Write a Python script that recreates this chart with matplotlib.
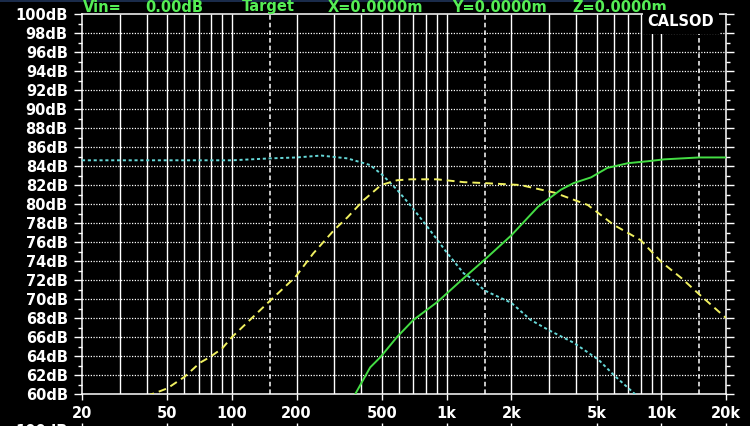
import matplotlib
matplotlib.use("Agg")
from matplotlib import pyplot as plt
from matplotlib.lines import Line2D
from matplotlib.ticker import FixedLocator, NullFormatter

# --- data (frequency in Hz, level in dB) ---
cyan_freq = [20, 50, 100, 150, 200, 260, 345, 440, 505, 587, 681, 800, 906, 1000,
             1200, 1300, 1500, 2000, 2460, 3000, 3900, 5100, 6000, 7440, 8000]
cyan_db = [84.6, 84.6, 84.6, 84.8, 84.9, 85.1, 84.8, 84.1, 83.0, 81.5, 79.8, 77.8, 76.2, 74.9,
           72.7, 72.2, 70.9, 69.6, 67.8, 66.7, 65.4, 63.6, 62.0, 60.1, 59.5]

yellow_freq = [40, 45, 50, 60, 71, 79, 90, 100, 150, 197, 239, 300, 345, 410, 495, 587, 680,
               900, 1200, 1500, 2200, 3170, 4540, 6000, 8000, 10000, 12400, 15000, 20000]
yellow_db = [59.8, 60.2, 60.6, 61.8, 63.3, 63.9, 64.8, 66.0, 69.8, 72.3, 74.8, 77.3, 78.6, 80.4,
             82.0, 82.5, 82.6, 82.6, 82.3, 82.2, 82.0, 81.2, 79.9, 77.8, 76.2, 73.9, 72.2, 70.5, 68.0]

green_freq = [365, 375, 440, 492, 587, 700, 906, 1200, 1530, 2000, 2660, 3400, 3900, 4700,
              5600, 7000, 8640, 10300, 15000, 20000]
green_db = [59.5, 60.0, 62.8, 63.9, 66.0, 67.8, 69.7, 72.2, 74.3, 76.7, 79.7, 81.5, 82.2, 82.8,
            83.8, 84.3, 84.5, 84.7, 84.9, 84.9]

x_major = [20, 50, 100, 200, 500, 1000, 2000, 5000, 10000, 20000]
x_labels = ["20", "50", "100", "200", "500", "1k", "2k", "5k", "10k", "20k"]
x_solid = [30, 40, 50, 60, 70, 80, 90, 100, 200, 300, 400, 500, 600, 700, 800, 900,
           1000, 2000, 3000, 4000, 5000, 6000, 7000, 8000, 9000, 10000]
x_dotted = [150, 1500, 15000]
y_major = list(range(60, 101, 2))
y_minor = list(range(61, 100, 2))

title_parts = ["Vin=", "0.00dB", "Target", "X=0.0000m", "Y=0.0000m", "Z=0.0000m"]
title_px = [83, 145, 242, 328, 452, 572]

W, H = 750, 426
FONT = dict(family="DejaVu Sans", weight="bold", size=10.5)

fig = plt.figure(figsize=(W / 100, H / 100), dpi=100, facecolor="black")
ax = fig.add_axes([82 / W, (H - 394) / H, (726 - 82) / W, (394 - 14) / H], facecolor="black")
ax.set_xscale("log")
ax.set_xlim(20, 20000)
ax.set_ylim(60, 100)

# grid
ax.vlines(x_solid, 60, 100, colors="white", linewidth=1.0, zorder=1)
ax.vlines(x_dotted, 60, 100, colors="white", linewidth=1.1, linestyles=(0, (3, 2)), zorder=1)
ax.hlines(y_major[1:-1], 20, 20000, colors="white", linewidth=0.9, linestyles=(0, (1, 1.2)), zorder=1)

# curves
ax.plot(cyan_freq, cyan_db, color="#66d8d8", linewidth=1.4, linestyle=(0, (1.6, 1.4)), zorder=3)
ax.plot(yellow_freq, yellow_db, color="#f0f060", linewidth=1.4, linestyle=(0, (4, 2.6)), zorder=3)
ax.plot(green_freq, green_db, color="#44dd44", linewidth=1.4, zorder=3)

for s in ax.spines.values():
    s.set_color("white")
    s.set_linewidth(1.1)

ax.xaxis.set_major_locator(FixedLocator(x_major))
ax.xaxis.set_minor_locator(FixedLocator([]))
ax.set_xticklabels(x_labels)
ax.yaxis.set_major_locator(FixedLocator(y_major))
ax.yaxis.set_minor_locator(FixedLocator(y_minor))
ax.yaxis.set_minor_formatter(NullFormatter())
ax.set_yticklabels([f"{v}dB" for v in y_major])

ax.tick_params(axis="x", which="major", colors="white", length=4.3, width=1.0, pad=4.5,
               direction="out")
ax.tick_params(axis="y", which="major", colors="white", length=5.8, width=1.0, pad=4.5,
               direction="out", left=True, right=True)
ax.tick_params(axis="y", which="minor", colors="white", length=2.9, width=1.0,
               direction="out", left=True, right=True)
for lab in ax.get_xticklabels() + ax.get_yticklabels():
    lab.set_fontproperties(matplotlib.font_manager.FontProperties(**FONT))
    lab.set_color("white")

# CALSOD tag
fig.text(681 / W, 1 - 22 / H, "CALSOD", color="white", ha="center", va="center",
         bbox=dict(facecolor="black", edgecolor="none", pad=3.5), zorder=5, **FONT)

# title line
for part, px in zip(title_parts, title_px):
    fig.text(px / W, 1 - 11.5 / H, part, color="#55ee55", ha="left", va="baseline", **FONT)

# thin blue rule at the very top
fig.add_artist(Line2D([0, 0.8], [1 - 0.5 / H, 1 - 0.5 / H], color="#20345a", linewidth=1.2))

# top of the next panel, cut off by the image edge
ax2 = fig.add_axes([82 / W, -0.2, (726 - 82) / W, 0.2 + 3 / H], facecolor="black")
ax2.set_xscale("log")
ax2.set_xlim(20, 20000)
ax2.set_yticks([])
for s in ax2.spines.values():
    s.set_visible(False)
ax2.xaxis.set_major_locator(FixedLocator(x_major))
ax2.xaxis.set_minor_locator(FixedLocator([]))
ax2.tick_params(axis="x", which="major", colors="white", length=8, width=1.0, direction="in",
                top=True, bottom=False, labelbottom=False)
fig.text(68 / W, 1 - 431 / H, "100dB", color="white", ha="right", va="center", **FONT)

fig.savefig("out.png", dpi=100, facecolor="black")
